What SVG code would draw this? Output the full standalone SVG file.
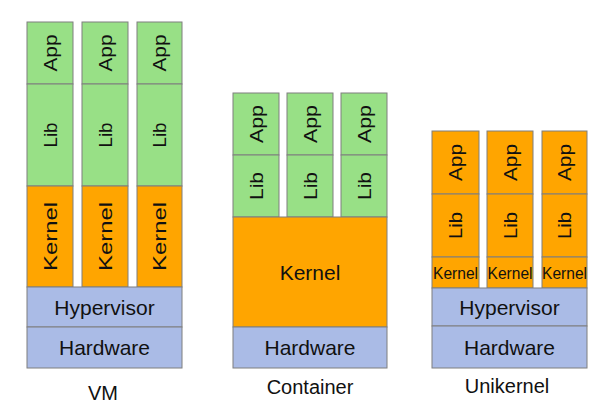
<svg xmlns="http://www.w3.org/2000/svg" width="597" height="405" viewBox="0 0 597 405">
<style>
rect{stroke:#7f7f7f;stroke-width:1}
.g{fill:#98e086}
.o{fill:#ffa500}
.b{fill:#aabbe6}
text{font-family:"Liberation Sans",Arial,sans-serif;fill:#111111;text-anchor:middle}
.h{font-size:21px}
.v{font-size:19px}
.s{font-size:17px}
.t{font-size:20px}
</style>
<rect x="0" y="0" width="597" height="405" fill="#ffffff" style="stroke:none"/>
<g id="vm">
<g id="vm-col1">
<rect class="g" x="27" y="22" width="46" height="62"/>
<rect class="g" x="27" y="84" width="46" height="102"/>
<rect class="o" x="27" y="186" width="46" height="101"/>
<text class="v" transform="translate(50,53) rotate(-90)" y="6.6" textLength="37" lengthAdjust="spacingAndGlyphs">App</text>
<text class="v" transform="translate(50,135) rotate(-90)" y="6.6" textLength="25" lengthAdjust="spacingAndGlyphs">Lib</text>
<text class="v" transform="translate(50,236.5) rotate(-90)" y="6.6" textLength="69" lengthAdjust="spacingAndGlyphs">Kernel</text>
</g>
<g id="vm-col2">
<rect class="g" x="82" y="22" width="46" height="62"/>
<rect class="g" x="82" y="84" width="46" height="102"/>
<rect class="o" x="82" y="186" width="46" height="101"/>
<text class="v" transform="translate(105,53) rotate(-90)" y="6.6" textLength="37" lengthAdjust="spacingAndGlyphs">App</text>
<text class="v" transform="translate(105,135) rotate(-90)" y="6.6" textLength="25" lengthAdjust="spacingAndGlyphs">Lib</text>
<text class="v" transform="translate(105,236.5) rotate(-90)" y="6.6" textLength="69" lengthAdjust="spacingAndGlyphs">Kernel</text>
</g>
<g id="vm-col3">
<rect class="g" x="137" y="22" width="45" height="62"/>
<rect class="g" x="137" y="84" width="45" height="102"/>
<rect class="o" x="137" y="186" width="45" height="101"/>
<text class="v" transform="translate(159.5,53) rotate(-90)" y="6.6" textLength="37" lengthAdjust="spacingAndGlyphs">App</text>
<text class="v" transform="translate(159.5,135) rotate(-90)" y="6.6" textLength="25" lengthAdjust="spacingAndGlyphs">Lib</text>
<text class="v" transform="translate(159.5,236.5) rotate(-90)" y="6.6" textLength="69" lengthAdjust="spacingAndGlyphs">Kernel</text>
</g>
<g id="vm-hypervisor">
<rect class="b" x="27" y="287" width="155" height="40"/>
<text class="h" x="104.5" y="314.5">Hypervisor</text>
</g>
<g id="vm-hardware">
<rect class="b" x="27" y="327" width="155" height="41"/>
<text class="h" x="104.5" y="355">Hardware</text>
</g>
<text class="t" x="103" y="400">VM</text>
</g>
<g id="container">
<g id="ct-col1">
<rect class="g" x="233" y="93" width="46" height="62"/>
<rect class="g" x="233" y="155" width="46" height="62"/>
<text class="v" transform="translate(256,124) rotate(-90)" y="6.6" textLength="38" lengthAdjust="spacingAndGlyphs">App</text>
<text class="v" transform="translate(256,186) rotate(-90)" y="6.6" textLength="28" lengthAdjust="spacingAndGlyphs">Lib</text>
</g>
<g id="ct-col2">
<rect class="g" x="287" y="93" width="46" height="62"/>
<rect class="g" x="287" y="155" width="46" height="62"/>
<text class="v" transform="translate(310,124) rotate(-90)" y="6.6" textLength="38" lengthAdjust="spacingAndGlyphs">App</text>
<text class="v" transform="translate(310,186) rotate(-90)" y="6.6" textLength="28" lengthAdjust="spacingAndGlyphs">Lib</text>
</g>
<g id="ct-col3">
<rect class="g" x="341" y="93" width="46" height="62"/>
<rect class="g" x="341" y="155" width="46" height="62"/>
<text class="v" transform="translate(364,124) rotate(-90)" y="6.6" textLength="38" lengthAdjust="spacingAndGlyphs">App</text>
<text class="v" transform="translate(364,186) rotate(-90)" y="6.6" textLength="28" lengthAdjust="spacingAndGlyphs">Lib</text>
</g>
<g id="ct-kernel">
<rect class="o" x="233" y="217" width="154" height="110"/>
<text class="h" x="310" y="279.5">Kernel</text>
</g>
<g id="ct-hardware">
<rect class="b" x="233" y="327" width="154" height="41"/>
<text class="h" x="310" y="355">Hardware</text>
</g>
<text class="t" x="310" y="394">Container</text>
</g>
<g id="unikernel">
<g id="uk-col1">
<rect class="o" x="432" y="131" width="47" height="63"/>
<rect class="o" x="432" y="194" width="47" height="63"/>
<rect class="o" x="432" y="257" width="47" height="31"/>
<text class="v" transform="translate(455.5,162.5) rotate(-90)" y="6.6" textLength="37" lengthAdjust="spacingAndGlyphs">App</text>
<text class="v" transform="translate(455.5,225.5) rotate(-90)" y="6.6" textLength="27" lengthAdjust="spacingAndGlyphs">Lib</text>
<text class="s" x="455.5" y="278.5" textLength="45" lengthAdjust="spacingAndGlyphs">Kernel</text>
</g>
<g id="uk-col2">
<rect class="o" x="487" y="131" width="46" height="63"/>
<rect class="o" x="487" y="194" width="46" height="63"/>
<rect class="o" x="487" y="257" width="46" height="31"/>
<text class="v" transform="translate(510,162.5) rotate(-90)" y="6.6" textLength="37" lengthAdjust="spacingAndGlyphs">App</text>
<text class="v" transform="translate(510,225.5) rotate(-90)" y="6.6" textLength="27" lengthAdjust="spacingAndGlyphs">Lib</text>
<text class="s" x="510" y="278.5" textLength="45" lengthAdjust="spacingAndGlyphs">Kernel</text>
</g>
<g id="uk-col3">
<rect class="o" x="542" y="131" width="45" height="63"/>
<rect class="o" x="542" y="194" width="45" height="63"/>
<rect class="o" x="542" y="257" width="45" height="31"/>
<text class="v" transform="translate(564.5,162.5) rotate(-90)" y="6.6" textLength="37" lengthAdjust="spacingAndGlyphs">App</text>
<text class="v" transform="translate(564.5,225.5) rotate(-90)" y="6.6" textLength="27" lengthAdjust="spacingAndGlyphs">Lib</text>
<text class="s" x="564.5" y="278.5" textLength="45" lengthAdjust="spacingAndGlyphs">Kernel</text>
</g>
<g id="uk-hypervisor">
<rect class="b" x="432" y="288" width="155" height="38"/>
<text class="h" x="509.5" y="314.5">Hypervisor</text>
</g>
<g id="uk-hardware">
<rect class="b" x="432" y="326" width="155" height="42"/>
<text class="h" x="509.5" y="354.5">Hardware</text>
</g>
<text class="t" x="507" y="393">Unikernel</text>
</g>
<g id="connectors"></g>
</svg>
